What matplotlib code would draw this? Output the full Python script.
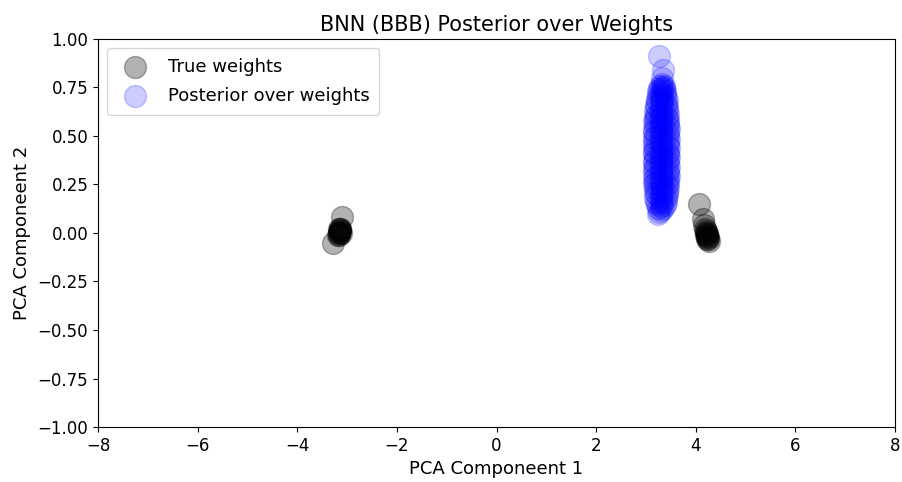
import matplotlib
matplotlib.use("Agg")
import matplotlib.pyplot as plt

# True weight projections (PCA space)
true_x = [-3.10, -3.28, -3.15, -3.17, -3.14, -3.18, -3.16, -3.15, -3.13, -3.17, -3.16, -3.14,
          4.07, 4.15, 4.17, 4.20, 4.22, 4.23, 4.25, 4.20, 4.24, 4.22, 4.18, 4.26, 4.21, 4.23]
true_y = [0.08, -0.05, 0.01, 0.00, 0.02, -0.01, 0.00, 0.01, 0.00, 0.02, -0.01, 0.02,
          0.15, 0.07, 0.04, 0.01, 0.00, -0.02, -0.03, -0.01, -0.02, -0.03, 0.02, -0.04, 0.00, -0.01]

# Posterior samples projected onto the same components (left, centre and right edge of the band)
post_left_x = [3.27, 3.24, 3.22, 3.21, 3.19, 3.20, 3.18, 3.19, 3.17, 3.18, 3.16, 3.18, 3.17, 3.16,
               3.18, 3.17, 3.16, 3.18, 3.17, 3.16, 3.18, 3.17, 3.16, 3.17, 3.18, 3.16, 3.17, 3.18,
               3.17, 3.19, 3.18, 3.20, 3.19, 3.21, 3.20, 3.22, 3.23, 3.24, 3.25, 3.27, 3.29]
post_left_y = [0.11, 0.13, 0.15, 0.16, 0.18, 0.20, 0.21, 0.23, 0.25, 0.26, 0.28, 0.29, 0.31, 0.33,
               0.34, 0.36, 0.37, 0.39, 0.41, 0.42, 0.44, 0.45, 0.47, 0.49, 0.50, 0.52, 0.53, 0.55,
               0.57, 0.58, 0.60, 0.61, 0.63, 0.65, 0.66, 0.68, 0.69, 0.71, 0.73, 0.74, 0.76]
post_mid_x = [3.31, 3.30, 3.32, 3.31, 3.30, 3.32, 3.31, 3.33, 3.30, 3.31, 3.32, 3.30, 3.31, 3.33,
              3.31, 3.30, 3.32, 3.31, 3.30, 3.32, 3.31, 3.33, 3.30, 3.31, 3.32, 3.30, 3.31, 3.33,
              3.31, 3.30, 3.32, 3.31, 3.30, 3.32, 3.31, 3.33, 3.30, 3.31, 3.32, 3.33, 3.32]
post_mid_y = [0.12, 0.14, 0.155, 0.17, 0.19, 0.205, 0.22, 0.24, 0.255, 0.27, 0.29, 0.30, 0.32, 0.335,
              0.35, 0.37, 0.385, 0.40, 0.415, 0.43, 0.45, 0.465, 0.48, 0.50, 0.515, 0.53, 0.545, 0.56,
              0.58, 0.595, 0.61, 0.625, 0.64, 0.66, 0.675, 0.69, 0.705, 0.72, 0.74, 0.755, 0.77]
post_right_x = [3.35, 3.38, 3.40, 3.41, 3.43, 3.42, 3.44, 3.43, 3.45, 3.44, 3.46, 3.44, 3.45, 3.46,
                3.44, 3.45, 3.46, 3.44, 3.45, 3.46, 3.45, 3.44, 3.46, 3.45, 3.44, 3.46, 3.45, 3.44,
                3.45, 3.43, 3.44, 3.42, 3.43, 3.41, 3.42, 3.40, 3.39, 3.38, 3.37, 3.36]
post_right_y = [0.13, 0.145, 0.16, 0.18, 0.195, 0.21, 0.23, 0.245, 0.26, 0.28, 0.295, 0.31, 0.325, 0.34,
                0.36, 0.375, 0.39, 0.405, 0.42, 0.44, 0.455, 0.47, 0.485, 0.505, 0.52, 0.535, 0.55, 0.565,
                0.585, 0.60, 0.615, 0.635, 0.65, 0.665, 0.68, 0.70, 0.715, 0.73, 0.745, 0.76]
post_tail_x = [3.27, 3.35, 3.33, 3.24]
post_tail_y = [0.91, 0.84, 0.80, 0.10]

post_x = post_left_x + post_mid_x + post_right_x + post_tail_x
post_y = post_left_y + post_mid_y + post_right_y + post_tail_y

plt.rcParams["font.size"] = 12

fig = plt.figure(figsize=(9.02, 4.82), dpi=100)
ax = fig.add_axes([98 / 902, 1 - 427 / 482, (895 - 98) / 902, (427 - 39) / 482])

ax.scatter(true_x, true_y, s=250, c="black", alpha=0.3, label="True weights")
ax.scatter(post_x, post_y, s=250, c="blue", alpha=0.2, label="Posterior over weights")

ax.set_xlim(-8, 8)
ax.set_ylim(-1, 1)
ax.set_xticks(range(-8, 9, 2))
ax.set_yticks([-1.0, -0.75, -0.5, -0.25, 0.0, 0.25, 0.5, 0.75, 1.0])
ax.set_xlabel("PCA Componeent 1", fontsize=13)
ax.set_ylabel("PCA Componeent 2", fontsize=13, labelpad=5)
ax.set_title("BNN (BBB) Posterior over Weights", fontsize=15)
ax.legend(loc="upper left", fontsize=13, labelspacing=0.6, borderpad=0.55)

fig.savefig("out.png", dpi=100)
